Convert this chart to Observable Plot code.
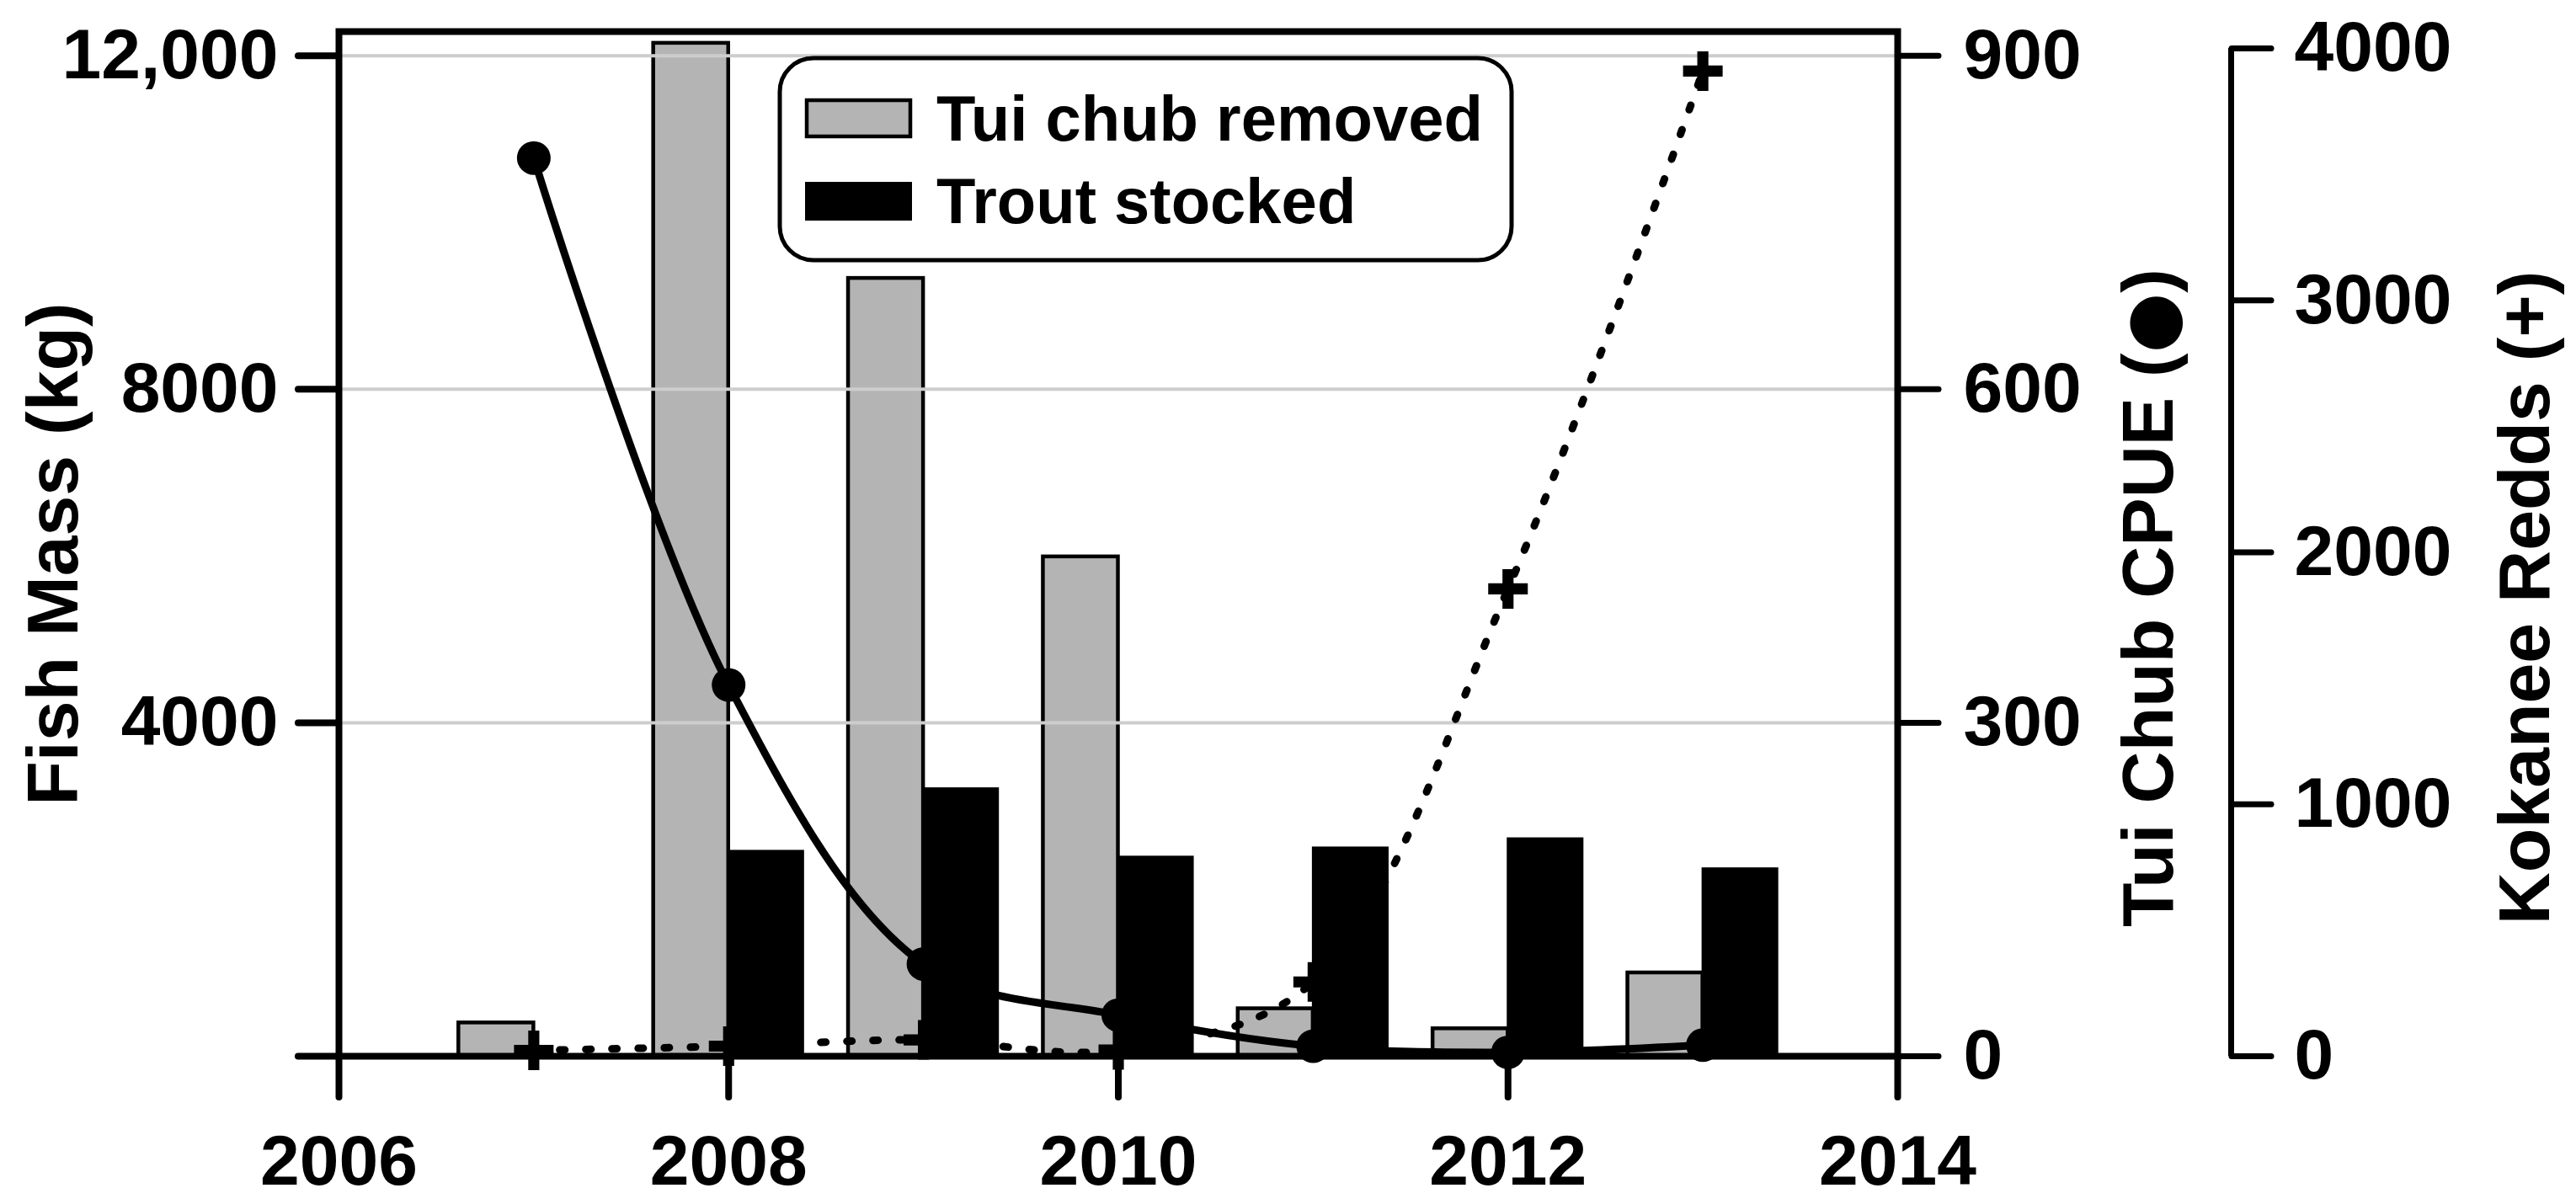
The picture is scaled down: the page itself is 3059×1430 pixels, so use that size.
<!DOCTYPE html>
<html>
<head>
<meta charset="utf-8">
<script src="https://cdn.jsdelivr.net/npm/d3@7"></script>
<script src="https://cdn.jsdelivr.net/npm/@observablehq/plot@0.6"></script>
<style>
  html, body { margin: 0; padding: 0; background: #fff; }
</style>
</head>
<body>
<div id="chart"></div>
<script>
// ---- data ----
const years = [2007, 2008, 2009, 2010, 2011, 2012, 2013];
const tuiChubRemoved = [400, 12150, 9330, 5990, 570, 330, 1000];   // kg
const troutStocked   = [0, 2460, 3210, 2390, 2500, 2610, 2250];    // kg
const tuiChubCPUE    = [808, 334, 83, 37, 9, 3.5, 10];
const kokaneeRedds   = [23, 40, 65, 25, 295, 1855, 3910];

const yearTicks = [2006, 2008, 2010, 2012, 2014];
const massTicks = [0, 4000, 8000, 12000];
const massTickLabels = ["", "4000", "8000", "12,000"];
const cpueTicks = [0, 300, 600, 900];
const reddsTicks = [0, 1000, 2000, 3000, 4000];

const legendLabels = ["Tui chub removed", "Trout stocked"];
const titles = {mass: "Fish Mass (kg)", cpue: "Tui Chub CPUE (\u25CF)", redds: "Kokanee Redds (+)"};

// secondary axes mapped onto the primary (kg) scale
const kC = 12000 / 900;
const kR = 12088 / 4000;

const removed = years.map((y, i) => ({year: y, value: tuiChubRemoved[i]}));
const trout = years.map((y, i) => ({year: y, value: troutStocked[i]})).filter(d => d.value > 0);
const cpue = years.map((y, i) => ({year: y, v: tuiChubCPUE[i]}));
const redds = years.map((y, i) => ({year: y, v: kokaneeRedds[i]}));

const W = 3059, H = 1430;
const barW = 0.385;
const font = "'Liberation Sans', Arial, Helvetica, sans-serif";

// heavy filled plus marker
const heavyPlus = {
  draw(ctx, size) {
    const r = Math.sqrt(size / Math.PI), t = r * 0.28;
    ctx.moveTo(-r, -t); ctx.lineTo(-t, -t); ctx.lineTo(-t, -r); ctx.lineTo(t, -r);
    ctx.lineTo(t, -t); ctx.lineTo(r, -t); ctx.lineTo(r, t); ctx.lineTo(t, t);
    ctx.lineTo(t, r); ctx.lineTo(-t, r); ctx.lineTo(-t, t); ctx.lineTo(-r, t);
    ctx.closePath();
  }
};

const chart = Plot.plot({
  width: W,
  height: H,
  marginLeft: 402,
  marginRight: W - 2253,
  marginTop: 37,
  marginBottom: H - 1254,
  style: {fontFamily: font, fontWeight: "bold", background: "#fff", color: "#000", overflow: "visible"},
  x: {domain: [2006, 2014]},
  y: {domain: [0, 12290]},
  marks: [
    Plot.rect(removed, {x1: d => d.year - barW, x2: "year", y1: 0, y2: "value",
      fill: "#b4b4b4", stroke: "#000", strokeWidth: 4.5}),
    Plot.rect(trout, {x1: "year", x2: d => d.year + barW, y1: 0, y2: "value",
      fill: "#000", stroke: "#000", strokeWidth: 2}),
    Plot.ruleY(massTicks.filter(d => d > 0), {stroke: "#cdcdcd", strokeWidth: 4}),
    // kokanee redds (dotted smooth line + plus markers)
    Plot.line(redds, {x: "year", y: d => d.v * kR, curve: "catmull-rom",
      stroke: "#000", strokeWidth: 9, strokeDasharray: "6,25", strokeLinecap: "round"}),
    Plot.dot(redds, {x: "year", y: d => d.v * kR, symbol: heavyPlus, r: 23.5, fill: "#000"}),
    // tui chub CPUE (solid smooth line + filled circles)
    Plot.line(cpue, {x: "year", y: d => d.v * kC, curve: "catmull-rom",
      stroke: "#000", strokeWidth: 9}),
    Plot.dot(cpue, {x: "year", y: d => d.v * kC, r: 20, fill: "#000"}),
    Plot.frame({stroke: "#000", strokeWidth: 8}),
    // axes
    Plot.axisX(yearTicks, {anchor: "bottom", tickSize: 49, tickPadding: 44, strokeWidth: 8,
      strokeLinecap: "round", fontSize: 84, fontWeight: "bold", label: null, tickFormat: d => String(d)}),
    Plot.axisY(massTicks, {anchor: "left", tickSize: 48, tickPadding: 24, strokeWidth: 8,
      strokeLinecap: "round", fontSize: 84, fontWeight: "bold", label: null,
      tickFormat: d => massTickLabels[massTicks.indexOf(d)]}),
    Plot.axisY(cpueTicks.map(d => d * kC), {anchor: "right", tickSize: 48, tickPadding: 30, strokeWidth: 7,
      strokeLinecap: "round", fontSize: 84, fontWeight: "bold", label: null,
      tickFormat: d => String(Math.round(d / kC))}),
    Plot.ruleX([2014], {y1: 0, y2: reddsTicks[reddsTicks.length - 1] * kR, dx: 396,
      stroke: "#000", strokeWidth: 7}),
    Plot.axisY(reddsTicks.map(d => d * kR), {anchor: "right", dx: 396, tickSize: 47, tickPadding: 28,
      strokeWidth: 7, strokeLinecap: "round", fontSize: 84, fontWeight: "bold", label: null,
      tickFormat: d => String(Math.round(d / kR))}),
    // axis titles
    Plot.text([titles.mass], {text: d => d, frameAnchor: "middle", dx: 64 - 1327.5, dy: 12,
      rotate: -90, fontSize: 86, fontWeight: "bold", fill: "#000"}),
    Plot.text([titles.cpue], {text: d => d, frameAnchor: "middle", dx: 2552 - 1327.5, dy: 64,
      rotate: -90, fontSize: 86, fontWeight: "bold", fill: "#000"}),
    Plot.text([titles.redds], {text: d => d, frameAnchor: "middle", dx: 2999 - 1327.5, dy: 64,
      rotate: -90, fontSize: 86, fontWeight: "bold", fill: "#000"})
  ]
});

const svg = d3.select(chart);

// enlarge the circle glyph inside the CPUE title
svg.selectAll("text").filter(function() { return this.textContent === titles.cpue; })
  .each(function() {
    const t = d3.select(this);
    const [pre, post] = titles.cpue.split("\u25CF");
    t.text(null);
    t.append("tspan").text(pre);
    t.append("tspan").attr("font-family", "'DejaVu Sans', sans-serif").attr("font-size", 82)
      .attr("dy", "0.03em").text("\u25CF");
    t.append("tspan").attr("dy", "-0.03em").text(post);
  });

// legend box inside the plot area
const lg = svg.append("g").attr("class", "legend").attr("text-anchor", "start");
lg.append("rect").attr("x", 926).attr("y", 69).attr("width", 869).attr("height", 240)
  .attr("rx", 40).attr("ry", 40).attr("fill", "#fff").attr("stroke", "#000").attr("stroke-width", 5);
lg.append("rect").attr("x", 958).attr("y", 119).attr("width", 123).attr("height", 43)
  .attr("fill", "#b4b4b4").attr("stroke", "#000").attr("stroke-width", 4.5);
lg.append("rect").attr("x", 956).attr("y", 216).attr("width", 127).attr("height", 46)
  .attr("fill", "#000");
lg.selectAll("text.lab").data(legendLabels).join("text")
  .attr("class", "lab")
  .attr("x", 1112)
  .attr("y", (d, i) => 167 + i * 98)
  .attr("text-anchor", "start")
  .attr("font-family", font).attr("font-weight", "bold").attr("font-size", 76)
  .attr("fill", "#000")
  .text(d => d);

document.getElementById("chart").appendChild(chart);
</script>
</body>
</html>
